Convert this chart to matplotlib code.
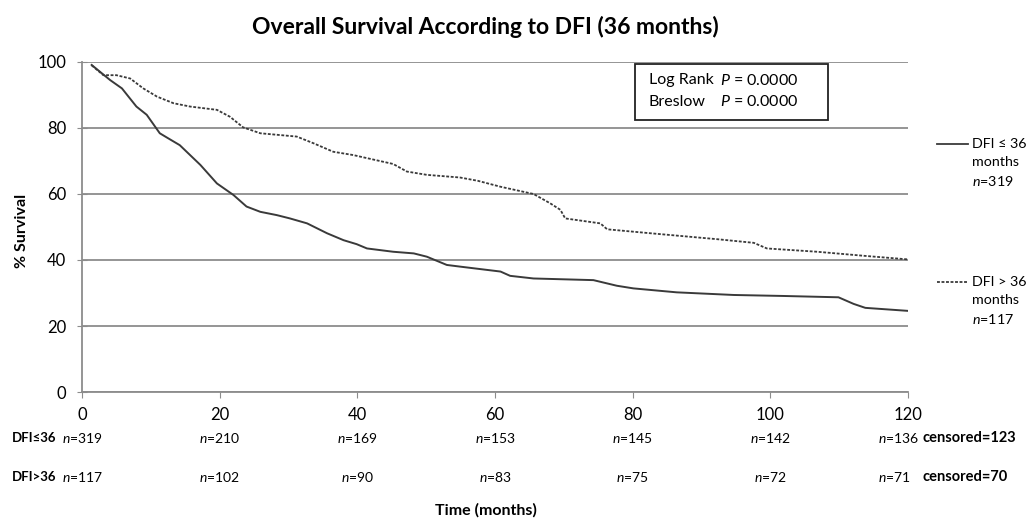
import matplotlib
matplotlib.use('Agg')
import matplotlib.pyplot as plt
from matplotlib.patches import Rectangle

plt.rcParams['font.family'] = ['Lato', 'DejaVu Sans']
plt.rcParams['mathtext.fontset'] = 'custom'
plt.rcParams['mathtext.rm'] = 'Lato'
plt.rcParams['mathtext.it'] = 'Lato:italic'
plt.rcParams['mathtext.bf'] = 'Lato:bold'

# survival curves (months, % survival)
t_short = [1.4, 4.1, 5.8, 7.9, 9.4, 11.3, 12.5, 14.2, 17.2, 19.6, 22.0, 23.9, 25.9,
           28.3, 30.2, 32.7, 35.6, 38.0, 39.9, 41.4, 45.2, 48.2, 50.1, 53.0, 54.9,
           60.8, 62.2, 65.6, 74.3, 77.7, 80.1, 86.4, 94.7, 101.9, 109.9, 112.1, 113.8, 119.9]
s_short = [99.1, 94.5, 92.0, 86.5, 84.0, 78.4, 76.9, 74.8, 68.8, 63.2, 59.7, 56.2, 54.6,
           53.6, 52.6, 51.1, 48.1, 46.0, 44.8, 43.5, 42.5, 42.0, 41.0, 38.5, 38.0,
           36.5, 35.2, 34.4, 33.9, 32.2, 31.4, 30.2, 29.4, 29.1, 28.7, 26.7, 25.5, 24.6]

t_long = [1.4, 3.1, 5.0, 7.0, 8.9, 10.9, 13.3, 15.7, 19.6, 21.5, 23.4, 25.9, 31.2,
          33.6, 36.5, 39.4, 45.2, 47.2, 50.1, 54.9, 57.5, 60.8, 65.6, 68.0, 69.5,
          70.2, 75.3, 76.3, 82.6, 92.3, 97.6, 99.5, 106.8, 114.0, 119.9]
s_long = [99.0, 96.0, 96.0, 95.0, 92.0, 89.5, 87.5, 86.5, 85.5, 83.4, 80.2, 78.4, 77.4,
          75.4, 72.8, 71.8, 69.1, 66.8, 65.8, 65.0, 64.0, 62.2, 60.0, 57.2, 55.2,
          52.6, 51.1, 49.3, 48.1, 46.3, 45.2, 43.5, 42.5, 41.2, 40.2]

risk_times = [0, 20, 40, 60, 80, 100, 120]
risk_short = [319, 210, 169, 153, 145, 142, 136]
risk_long = [117, 102, 90, 83, 75, 72, 71]
censored_short = 123
censored_long = 70

line_col = '#3a3a3a'
grid_col = '#8c8c8c'
dotted = (0, (1.6, 0.9))

fig = plt.figure(figsize=(10.29, 5.24), dpi=100)
ax = fig.add_axes([0.0797, 0.2519, 0.8027, 0.6298])

ax.plot(t_short, s_short, color=line_col, linewidth=1.4, solid_joinstyle='round')
ax.plot(t_long, s_long, color=line_col, linewidth=1.3, linestyle=dotted)

ax.set_xlim(0, 120)
ax.set_ylim(0, 100)
ax.set_xticks(risk_times)
ax.set_yticks([0, 20, 40, 60, 80, 100])
ax.yaxis.grid(True, color=grid_col, linewidth=1.3)
ax.set_axisbelow(True)
for s in ['top', 'right']:
    ax.spines[s].set_visible(False)
for s in ['left', 'bottom']:
    ax.spines[s].set_color(grid_col)
    ax.spines[s].set_linewidth(1.3)
ax.tick_params(axis='y', direction='inout', length=7, color=grid_col, labelsize=12, pad=8)
ax.tick_params(axis='x', direction='out', length=4, color=grid_col, labelsize=12, pad=7)

fig.text(0.472, 0.948, 'Overall Survival According to DFI (36 months)',
         ha='center', va='center', fontsize=16.5, fontweight='bold')
fig.text(0.021, 0.56, '% Survival', rotation=90, ha='center', va='center',
         fontsize=11.5, fontweight='bold')
fig.text(0.472, 0.027, 'Time (months)', ha='center', va='center',
         fontsize=11.5, fontweight='bold')

# p-value box
ax.add_patch(Rectangle((0.6695, 0.824), 0.2336, 0.170, transform=ax.transAxes,
                       facecolor='white', edgecolor='#222222', linewidth=1.3, zorder=3))
for yy, name in [(0.945, 'Log Rank'), (0.879, 'Breslow')]:
    ax.text(0.686, yy, name, transform=ax.transAxes, ha='left', va='center',
            fontsize=11.5, zorder=4)
    ax.text(0.772, yy, '$P$ = 0.0000', transform=ax.transAxes, ha='left', va='center',
            fontsize=11.5, zorder=4)

# legend drawn by hand at the right
for yfrac, ls, lines in [(0.7515, '-', ['DFI ≤ 36', 'months', '$n$=319']),
                         (0.3333, dotted, ['DFI > 36', 'months', '$n$=117'])]:
    ax.plot([1.035, 1.073], [yfrac, yfrac], transform=ax.transAxes, color=line_col,
            linewidth=1.3, linestyle=ls, clip_on=False)
    for i, lab in enumerate(lines):
        ax.text(1.0775, yfrac - i * 0.056, lab, transform=ax.transAxes, ha='left',
                va='center', fontsize=10.3)

# numbers at risk
trans = ax.get_xaxis_transform()
row1 = -0.139
row2 = -0.258
for rr, lab in [(row1, 'DFI≤36'), (row2, 'DFI>36')]:
    ax.text(-0.0847, rr, lab, transform=ax.transAxes, ha='left', va='center',
            fontsize=9.5, fontweight='bold')
for t, a, b in zip(risk_times, risk_short, risk_long):
    if t == risk_times[-1]:
        ax.text(t - 4.3, row1, '$n$=%d' % a, transform=trans, ha='left', va='center', fontsize=10)
        ax.text(t - 4.3, row2, '$n$=%d' % b, transform=trans, ha='left', va='center', fontsize=10)
    else:
        ax.text(t, row1, '$n$=%d' % a, transform=trans, ha='center', va='center', fontsize=10)
        ax.text(t, row2, '$n$=%d' % b, transform=trans, ha='center', va='center', fontsize=10)
ax.text(1.018, row1, 'censored=%d' % censored_short, transform=ax.transAxes,
        ha='left', va='center', fontsize=10.5, fontweight='bold')
ax.text(1.018, row2, 'censored=%d' % censored_long, transform=ax.transAxes,
        ha='left', va='center', fontsize=10.5, fontweight='bold')

fig.savefig('out.png', dpi=100)
